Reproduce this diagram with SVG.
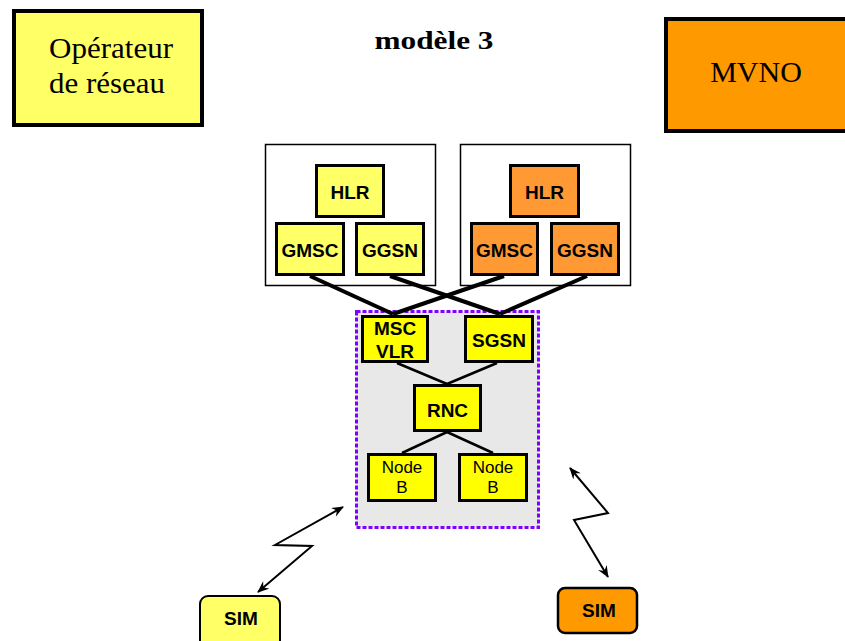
<svg xmlns="http://www.w3.org/2000/svg" width="845" height="641" viewBox="0 0 845 641">
<style>
.serif{font-family:"Liberation Serif","Times New Roman",serif;fill:#000}
.lbl{font-family:"Liberation Sans",Arial,sans-serif;font-weight:bold;font-size:19px;text-anchor:middle;fill:#000}
.lbln{font-family:"Liberation Sans",Arial,sans-serif;font-size:17px;text-anchor:middle;fill:#000}
.nd{stroke:#000;stroke-width:3}
.y{fill:#FFFF00}
.ly{fill:#FFFF66}
.or{fill:#FF9933}
.grp{fill:#fff;stroke:#000;stroke-width:1.5}
.thick{stroke:#000;stroke-width:4;fill:none}
.thin{stroke:#000;stroke-width:2.5;fill:none}
.radio{stroke:#000;stroke-width:2;fill:none;marker-start:url(#ah);marker-end:url(#ah)}
</style>
<defs>
<marker id="ah" viewBox="0 0 12 10" refX="11" refY="5" markerWidth="12" markerHeight="10" markerUnits="userSpaceOnUse" orient="auto-start-reverse">
<path d="M0,0 L12,5 L0,10 L4,5 z" fill="#000"/>
</marker>
</defs>
<rect width="845" height="641" fill="#fff"/>

<g id="operateur">
<rect x="14" y="11" width="188" height="114" fill="#FFFF66" stroke="#000" stroke-width="4"/>
<text class="serif" x="111" y="58" font-size="29" text-anchor="middle" textLength="124" lengthAdjust="spacingAndGlyphs">Opérateur</text>
<text class="serif" x="107" y="93" font-size="29" text-anchor="middle" textLength="116" lengthAdjust="spacingAndGlyphs">de réseau</text>
</g>

<g id="titre">
<text class="serif" x="434" y="49" font-size="26" font-weight="bold" text-anchor="middle" textLength="119" lengthAdjust="spacingAndGlyphs">modèle 3</text>
</g>

<g id="mvno">
<rect x="666" y="19" width="200" height="112" fill="#FF9900" stroke="#000" stroke-width="4"/>
<text class="serif" x="756" y="82" font-size="30" text-anchor="middle">MVNO</text>
</g>

<g id="groupe-operateur">
<rect class="grp" x="265.5" y="144.5" width="170" height="141"/>
</g>
<g id="groupe-mvno">
<rect class="grp" x="460.5" y="144.5" width="170" height="141"/>
</g>

<g id="hlr-op"><rect class="nd ly" x="316.5" y="165.5" width="67" height="51"/><text class="lbl" x="350" y="199">HLR</text></g>
<g id="gmsc-op"><rect class="nd ly" x="276.5" y="223.5" width="67" height="51"/><text class="lbl" x="310" y="257">GMSC</text></g>
<g id="ggsn-op"><rect class="nd ly" x="356.5" y="223.5" width="67" height="51"/><text class="lbl" x="390" y="257">GGSN</text></g>

<g id="hlr-mvno"><rect class="nd or" x="510.5" y="165.5" width="68" height="51"/><text class="lbl" x="544.5" y="199">HLR</text></g>
<g id="gmsc-mvno"><rect class="nd or" x="471.5" y="223.5" width="66" height="51"/><text class="lbl" x="504.5" y="257">GMSC</text></g>
<g id="ggsn-mvno"><rect class="nd or" x="551.5" y="223.5" width="67" height="51"/><text class="lbl" x="585" y="257">GGSN</text></g>

<g id="reseau-acces">
<rect x="356.5" y="311.5" width="182" height="216" fill="#E8E8E8" stroke="#7F00FF" stroke-width="3" stroke-dasharray="4,2"/>
</g>

<g id="msc-vlr"><rect class="nd y" x="362.5" y="316.5" width="65" height="45"/><text class="lbl" x="395" y="335">MSC</text><text class="lbl" x="395" y="358">VLR</text></g>
<g id="sgsn"><rect class="nd y" x="465.5" y="316.5" width="67" height="45"/><text class="lbl" x="499" y="347">SGSN</text></g>
<g id="rnc"><rect class="nd y" x="414.5" y="385.5" width="66" height="45"/><text class="lbl" x="447.5" y="417">RNC</text></g>
<g id="nodeb-1"><rect class="nd y" x="368.5" y="454.5" width="67" height="46"/><text class="lbln" x="402" y="473">Node</text><text class="lbln" x="402" y="493">B</text></g>
<g id="nodeb-2"><rect class="nd y" x="459.5" y="454.5" width="67" height="46"/><text class="lbln" x="493" y="473">Node</text><text class="lbln" x="493" y="493">B</text></g>

<g id="sim-op"><rect x="200" y="596" width="80" height="60" rx="8" fill="#FFFF66" stroke="#000" stroke-width="2"/><text class="lbl" x="241" y="625">SIM</text></g>
<g id="sim-mvno"><rect x="558" y="588" width="79" height="45" rx="7" fill="#FF9900" stroke="#000" stroke-width="2.5"/><text class="lbl" x="599" y="617">SIM</text></g>

<g id="connecteurs">
<line class="thick" x1="310" y1="276" x2="393" y2="314"/>
<line class="thick" x1="390" y1="276" x2="500" y2="314"/>
<line class="thick" x1="504" y1="276" x2="393" y2="314"/>
<line class="thick" x1="587" y1="276" x2="500" y2="314"/>
<line class="thin" x1="397" y1="363" x2="447" y2="384"/>
<line class="thin" x1="497" y1="363" x2="447" y2="384"/>
<line class="thin" x1="447" y1="432" x2="402" y2="453"/>
<line class="thin" x1="447" y1="432" x2="493" y2="453"/>
<polyline class="radio" points="343,507 275,545 312,546 258,592"/>
<polyline class="radio" points="570,468 608,513 574,520 608,577"/>
</g>
</svg>
